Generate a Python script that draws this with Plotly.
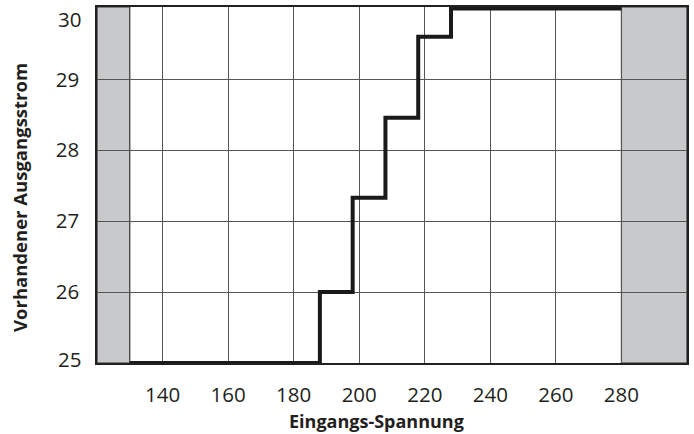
import plotly.graph_objects as go

# Data
voltage = [130, 188, 198, 208, 218, 228, 280]
current = [25, 26, 27.33, 28.46, 29.6, 30, 30]
x_ticks = [140, 160, 180, 200, 220, 240, 260, 280]
y_ticks_mid = [26, 27, 28, 29]
y_ticks_edge = [30, 25]
y_edge_shift = [-11, 4]
x_range = [120, 300]
y_range = [25, 30.02]
invalid_bands = [(120, 130), (280, 300)]
x_title = "Eingangs-Spannung"
y_title = "Vorhandener Ausgangsstrom"

FONT = "Open Sans"
GRID = "#555555"
GRAY = "#c8c9cb"
TXT = "#231f20"

fig = go.Figure()

fig.add_trace(go.Scatter(
    x=voltage, y=current, mode="lines", line_shape="hv",
    line=dict(color="#1a1a1a", width=4), showlegend=False, hoverinfo="skip",
))

shapes = []
for x0, x1 in invalid_bands:
    shapes.append(dict(type="rect", xref="x", yref="paper", x0=x0, x1=x1, y0=0, y1=1,
                       fillcolor=GRAY, line=dict(color="#333333", width=1.2), layer="below"))

tickfont = dict(family=FONT, size=20.5, color=TXT)

annotations = [
    dict(text=f"<b>{x_title}</b>", xref="paper", yref="paper", x=(376.5 - 97) / 590,
         y=-(421 - 363) / 356, xanchor="center", yanchor="middle", showarrow=False,
         font=dict(family=FONT, size=18, color=TXT)),
    dict(text=f"<b>{y_title}</b>", xref="paper", yref="paper", x=-(97 - 20) / 590,
         y=(363 - 198) / 356, xanchor="center", yanchor="middle", showarrow=False,
         textangle=-90, font=dict(family=FONT, size=18.5, color=TXT)),
]
for v, s in zip(y_ticks_edge, y_edge_shift):
    annotations.append(dict(text=str(v), xref="paper", yref="y", x=0, y=v,
                            xanchor="right", yanchor="middle", xshift=-14, yshift=s,
                            showarrow=False, font=tickfont))

fig.update_layout(
    width=694, height=434,
    margin=dict(l=97, r=7, t=7, b=71, autoexpand=False),
    paper_bgcolor="white", plot_bgcolor="white",
    shapes=shapes,
    xaxis=dict(range=x_range, tickvals=x_ticks, showgrid=True, gridcolor=GRID, gridwidth=1,
               zeroline=False, ticks="", tickfont=tickfont, ticklabelstandoff=13,
               showline=True, linecolor=TXT, linewidth=1.5, mirror=True,
               automargin=False, fixedrange=True),
    yaxis=dict(range=y_range, tickvals=y_ticks_mid, showgrid=True, gridcolor=GRID, gridwidth=1,
               zeroline=False, ticks="", tickfont=tickfont, ticklabelstandoff=12,
               showline=True, linecolor=TXT, linewidth=1.5, mirror=True,
               automargin=False, fixedrange=True),
    annotations=annotations,
)

fig.write_html("out.html", config={"displayModeBar": False},
               post_script="document.body.style.margin='0';document.body.style.padding='0';")
